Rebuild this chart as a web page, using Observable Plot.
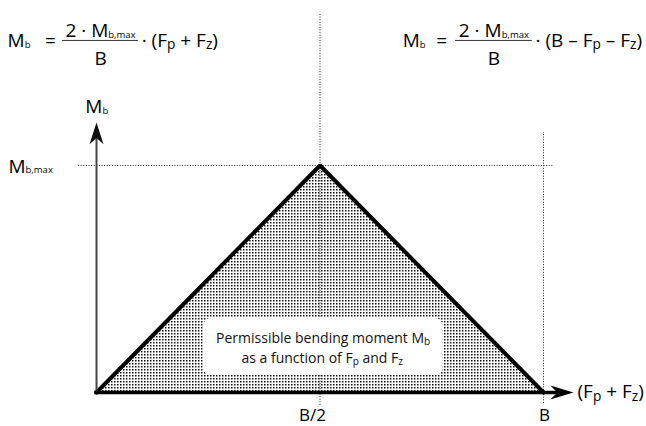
<!DOCTYPE html>
<html><head><meta charset="utf-8">
<script src="https://cdn.jsdelivr.net/npm/d3@7"></script>
<script src="https://cdn.jsdelivr.net/npm/@observablehq/plot@0.6"></script>
<style>
body{margin:0;background:#fff}
#chart svg{display:block}
</style></head><body><div id="chart"></div>
<script>
// Permissible bending moment as a function of (Fp + Fz), B normalized to 1, Mb,max normalized to 1
const forceSum = [0, 0.5, 1];
const moment = [0, 1, 0];
const tickValues = [0.5, 1];
const tickLabels = ["B/2", "B"];

// annotations (data units)
const formulaX = [-0.199, -0.103, 0.009, 0.009, 0.101, 0.685, 0.772, 0.889, 0.889, 0.982];
const formulaY = [1.524, 1.524, 1.568, 1.441, 1.524, 1.524, 1.524, 1.568, 1.441, 1.524];
const formulaText = ["M_{b}", "=", "2 · M_{b,max}", "B", "· (F~{p} + F~{z})",
                     "M_{b}", "=", "2 · M_{b,max}", "B", "· (B – F~{p} – F~{z})"];
const formulaAnchor = ["start", "middle", "middle", "middle", "start",
                       "start", "middle", "middle", "middle", "start"];
const fractionX1 = [-0.076, 0.803];
const fractionX2 = [0.094, 0.975];
const fractionY = [1.551, 1.551];

const axisLabelX = [-0.025, -0.197, 1.076];
const axisLabelY = [1.233, 0.969, -0.026];
const axisLabelText = ["M_{b}", "M_{b,max}", "(F~{p} + F~{z})"];

const boxLines = ["Permissible bending moment M~{b}", "as a function of F~{p} and F~{z}"];
const boxLineX = [0.507, 0.505];
const boxLineY = [0.220, 0.132];

const curve = forceSum.map((f, i) => ({f, m: moment[i]}));
const ticks = tickValues.map((v, i) => ({v, label: tickLabels[i]}));
const formulas = formulaText.map((t, i) => ({x: formulaX[i], y: formulaY[i], t, a: formulaAnchor[i]}));
const fractions = fractionY.map((y, i) => ({x1: fractionX1[i], x2: fractionX2[i], y}));
const axisLabels = axisLabelText.map((t, i) => ({x: axisLabelX[i], y: axisLabelY[i], t}));
const boxText = boxLines.map((t, i) => ({x: boxLineX[i], y: boxLineY[i], t}));

const arrowRight = {draw(ctx, size) { const r = Math.sqrt(size / Math.PI);
  ctx.moveTo(0, 0); ctx.lineTo(-3.3 * r, -r); ctx.lineTo(-2.3 * r, 0); ctx.lineTo(-3.3 * r, r); ctx.closePath(); }};
const arrowUp = {draw(ctx, size) { const r = Math.sqrt(size / Math.PI);
  ctx.moveTo(0, 0); ctx.lineTo(-r, 3.1 * r); ctx.lineTo(0, 2.2 * r); ctx.lineTo(r, 3.1 * r); ctx.closePath(); }};

const font = "'Open Sans', sans-serif";
const dotted = {stroke: "#222", strokeWidth: 1, strokeDasharray: "1,1.6"};

const svg = Plot.plot({
  width: 646, height: 426,
  marginLeft: 96, marginRight: 103, marginTop: 165, marginBottom: 34,
  x: {domain: [0, 1], axis: null},
  y: {domain: [0, 1], axis: null},
  style: {fontFamily: font, background: "#fff", overflow: "visible", color: "#000"},
  marks: [
    Plot.areaY(curve, {x: "f", y: "m", fill: "url(#dots)"}),
    Plot.ruleX([{x: 0.5, y1: -0.057, y2: 1.670}, {x: 1, y1: -0.048, y2: 1.145}], {x: "x", y1: "y1", y2: "y2", ...dotted}),
    Plot.ruleY([{y: 1, x1: -0.040, x2: 1.022}], {y: "y", x1: "x1", x2: "x2", ...dotted}),
    Plot.rect([{x1: 0.239, x2: 0.776, y1: 0.075, y2: 0.326}], {x1: "x1", x2: "x2", y1: "y1", y2: "y2", fill: "white", rx: 8}),
    Plot.text(boxText, {x: "x", y: "y", text: "t", fontSize: 14, lineAnchor: "bottom", textAnchor: "middle", fill: "#111"}),
    Plot.line(curve, {x: "f", y: "m", stroke: "#000", strokeWidth: 4, strokeLinejoin: "miter"}),
    Plot.ruleX([0], {y1: 0, y2: 1.12, stroke: "#444", strokeWidth: 2}),
    Plot.dot([{x: 0, y: 1.189}], {x: "x", y: "y", symbol: arrowUp, r: 7, fill: "#111", stroke: "none"}),
    Plot.ruleY([0], {x1: -0.004, x2: 1.035, stroke: "#000", strokeWidth: 3.5}),
    Plot.dot([{x: 1.067, y: 0}], {x: "x", y: "y", symbol: arrowRight, r: 7, fill: "#000", stroke: "none"}),
    Plot.text(ticks, {x: (d, i) => d.v - (i === 0 ? 0.017 : -0.002), y: -0.126, text: "label", fontSize: 17, lineAnchor: "bottom", textAnchor: "middle"}),
    Plot.ruleY(fractions, {y: "y", x1: "x1", x2: "x2", stroke: "#333", strokeWidth: 1}),
    Plot.text(formulas.filter(d => d.a === "start"), {x: "x", y: "y", text: "t", textAnchor: "start", fontSize: 19, lineAnchor: "bottom"}),
    Plot.text(formulas.filter(d => d.a === "middle"), {x: "x", y: "y", text: "t", textAnchor: "middle", fontSize: 19, lineAnchor: "bottom"}),
    Plot.text(axisLabels, {x: "x", y: "y", text: "t", textAnchor: "start", fontSize: 19, lineAnchor: "bottom"})
  ]
});

// dot pattern fill
const ns = "http://www.w3.org/2000/svg";
const defs = document.createElementNS(ns, "defs");
const pat = document.createElementNS(ns, "pattern");
pat.setAttribute("id", "dots"); pat.setAttribute("patternUnits", "userSpaceOnUse");
pat.setAttribute("width", 3); pat.setAttribute("height", 3);
const bg = document.createElementNS(ns, "rect");
bg.setAttribute("width", 3); bg.setAttribute("height", 3); bg.setAttribute("fill", "#fff");
const dot = document.createElementNS(ns, "rect");
dot.setAttribute("width", 1.5); dot.setAttribute("height", 1.5); dot.setAttribute("fill", "#111");
pat.appendChild(bg); pat.appendChild(dot); defs.appendChild(pat);
svg.insertBefore(defs, svg.firstChild);

document.getElementById("chart").appendChild(svg);

// subscripts: _{..} small, ~{..} medium
svg.querySelectorAll("text").forEach(t => {
  const s = t.textContent;
  if (!/[_~]\{/.test(s)) return;
  const fs = parseFloat(getComputedStyle(t).fontSize) || 16;
  t.style.whiteSpace = "pre";
  while (t.firstChild) t.removeChild(t.firstChild);
  const re = /([_~])\{([^}]*)\}/g;
  let last = 0, m, shift = 0;
  const add = (str, size, dy) => {
    const ts = document.createElementNS(ns, "tspan");
    ts.textContent = str;
    if (size) ts.setAttribute("font-size", size);
    if (dy) ts.setAttribute("dy", dy);
    t.appendChild(ts);
  };
  while ((m = re.exec(s))) {
    if (m.index > last) { add(s.slice(last, m.index), null, shift ? -shift : null); shift = 0; }
    const k = m[1] === "_" ? 0.5 : 0.72;
    const d = m[1] === "_" ? 0.05 * fs : 0.14 * fs;
    add(m[2], k * fs, d - shift); shift = d;
    last = re.lastIndex;
  }
  if (last < s.length) add(s.slice(last), null, shift ? -shift : null);
});
</script></body></html>
